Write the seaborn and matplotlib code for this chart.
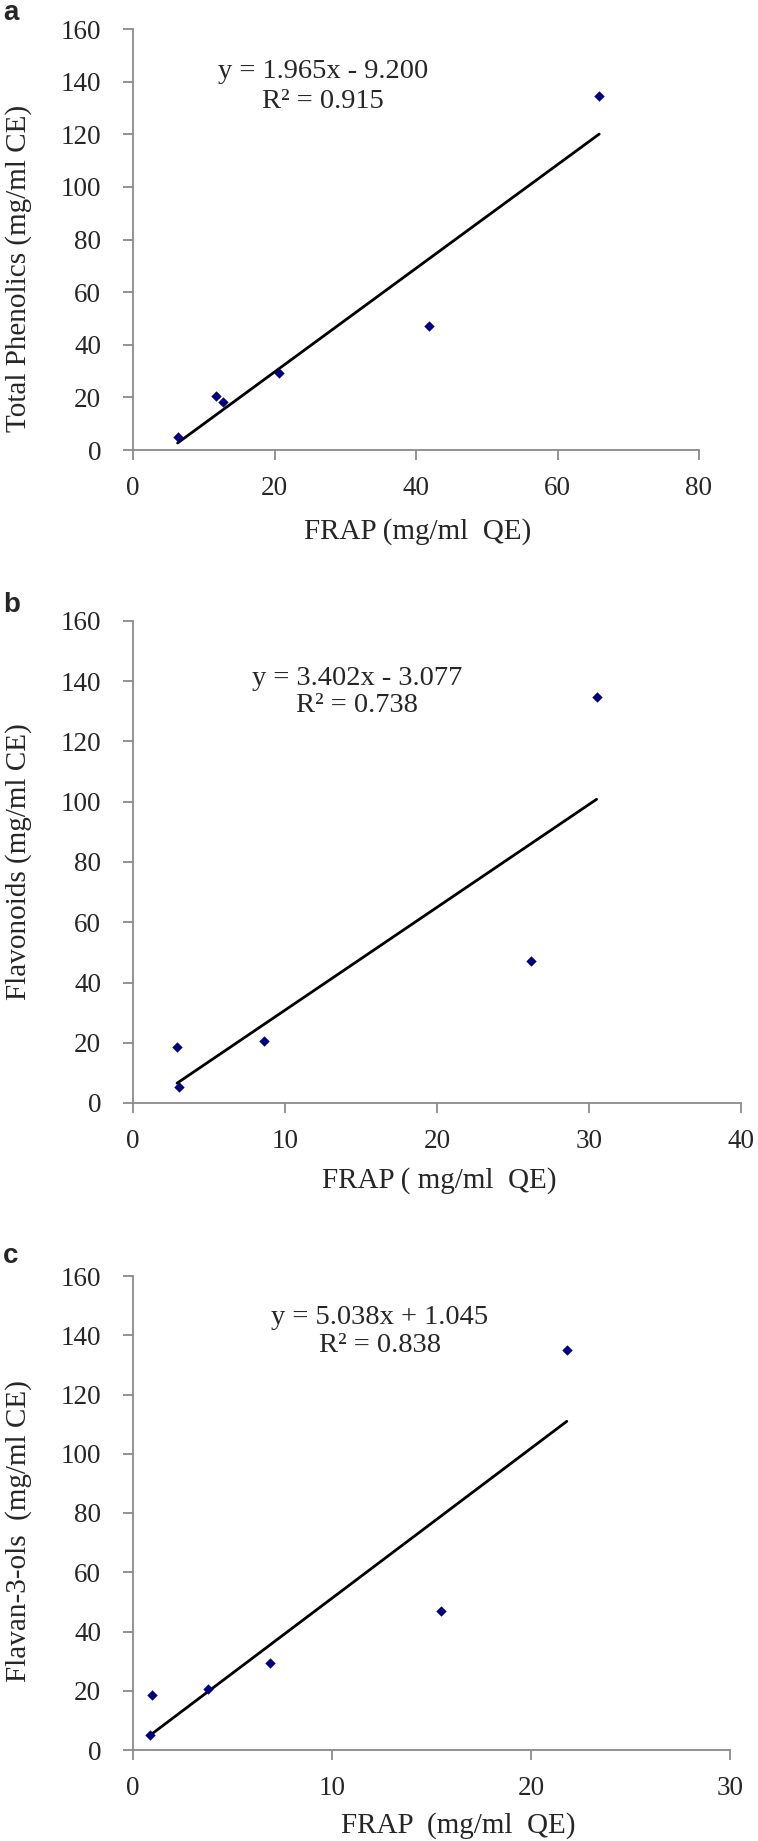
import matplotlib
matplotlib.use("Agg")
import matplotlib.pyplot as plt
import seaborn as sns
import pandas as pd

# ---- data ----
frap_a = [6.3, 11.8, 12.7, 20.7, 41.8, 65.9]
phenolics = [5.1, 20.6, 18.3, 29.3, 47.1, 134.7]

frap_b = [2.9, 3.0, 8.6, 26.2, 30.5]
flavonoids = [18.6, 5.2, 20.7, 47.2, 134.8]

frap_c = [0.85, 0.95, 3.76, 6.86, 15.5, 21.8]
flavanols = [5.0, 18.6, 20.5, 29.4, 47.0, 134.9]

equations = ["y = 1.965x - 9.200", "y = 3.402x - 3.077", "y = 5.038x + 1.045"]
r2_texts = ["R\u00b2 = 0.915", "R\u00b2 = 0.738", "R\u00b2 = 0.838"]
ylabels = ["Total Phenolics (mg/ml CE)", "Flavonoids (mg/ml CE)", "Flavan-3-ols  (mg/ml CE)"]
xlabels = ["FRAP (mg/ml  QE)", "FRAP ( mg/ml  QE)", "FRAP  (mg/ml  QE)"]
panel_letters = ["a", "b", "c"]
xmax = [80, 40, 30]
xticks = [[0, 20, 40, 60, 80], [0, 10, 20, 30, 40], [0, 10, 20, 30]]
yticks = [0, 20, 40, 60, 80, 100, 120, 140, 160]

sns.set_style("white")
plt.rcParams["font.family"] = ["Liberation Serif", "DejaVu Serif"]

W, H = 758, 1841
fig = plt.figure(figsize=(W / 100, H / 100), dpi=100)

def fx(px):
    return px / W

def fy(py):
    return 1 - py / H

# axes boxes in pixels: left, right, top, bottom
boxes = [(133, 699, 29, 450), (133, 741, 621, 1103), (133, 730, 1276, 1750)]
xl_pos = [(418, 518), (439, 1167), (458, 1812)]
yl_pos = [(32, 268), (32, 862), (32, 1531)]
eq_pos = [(323, 71, 101), (357, 679, 705), (380, 1317, 1345)]
letter_pos = [(3, 20), (3, 612), (3, 1263)]

datasets = [
    pd.DataFrame({"x": frap_a, "y": phenolics}),
    pd.DataFrame({"x": frap_b, "y": flavonoids}),
    pd.DataFrame({"x": frap_c, "y": flavanols}),
]

grey = "#8a8a8a"
for i, df in enumerate(datasets):
    l, r, t, b = boxes[i]
    ax = fig.add_axes([fx(l), fy(b), (r - l) / W, (b - t) / H])
    sns.regplot(data=df, x="x", y="y", ax=ax, scatter=False, ci=None,
                truncate=True, line_kws={"color": "black", "lw": 2.0})
    sns.scatterplot(data=df, x="x", y="y", ax=ax, marker="D", s=28,
                    color="#000080", linewidth=0, zorder=5)
    ax.set_xlim(0, xmax[i])
    ax.set_ylim(0, 160)
    ax.set_xticks(xticks[i])
    ax.set_yticks(yticks)
    for s in ["top", "right"]:
        ax.spines[s].set_visible(False)
    for s in ["left", "bottom"]:
        ax.spines[s].set_color(grey)
        ax.spines[s].set_linewidth(1.3)
    ax.tick_params(axis="x", direction="out", length=7, width=1.3, color=grey,
                   labelsize=19.5, pad=12, bottom=True)
    ax.tick_params(axis="y", direction="out", length=7, width=1.3, color=grey,
                   labelsize=19.5, pad=16, left=True)
    ax.set_xlabel(xlabels[i], fontsize=21)
    ax.set_ylabel(ylabels[i], fontsize=21)
    ax.xaxis.set_label_coords(fx(xl_pos[i][0]), fy(xl_pos[i][1]), transform=fig.transFigure)
    ax.yaxis.set_label_coords(fx(yl_pos[i][0]), fy(yl_pos[i][1]), transform=fig.transFigure)
    ex, ey1, ey2 = eq_pos[i]
    fig.text(fx(ex), fy(ey1), equations[i], ha="center", va="center", fontsize=20.5)
    fig.text(fx(ex), fy(ey2), r2_texts[i], ha="center", va="center", fontsize=20.5)
    lx, ly = letter_pos[i]
    fig.text(fx(lx), fy(ly), panel_letters[i], ha="left", va="baseline",
             fontsize=20, fontweight="bold", family=["Liberation Sans", "DejaVu Sans"])

fig.savefig("out.png", dpi=100)
